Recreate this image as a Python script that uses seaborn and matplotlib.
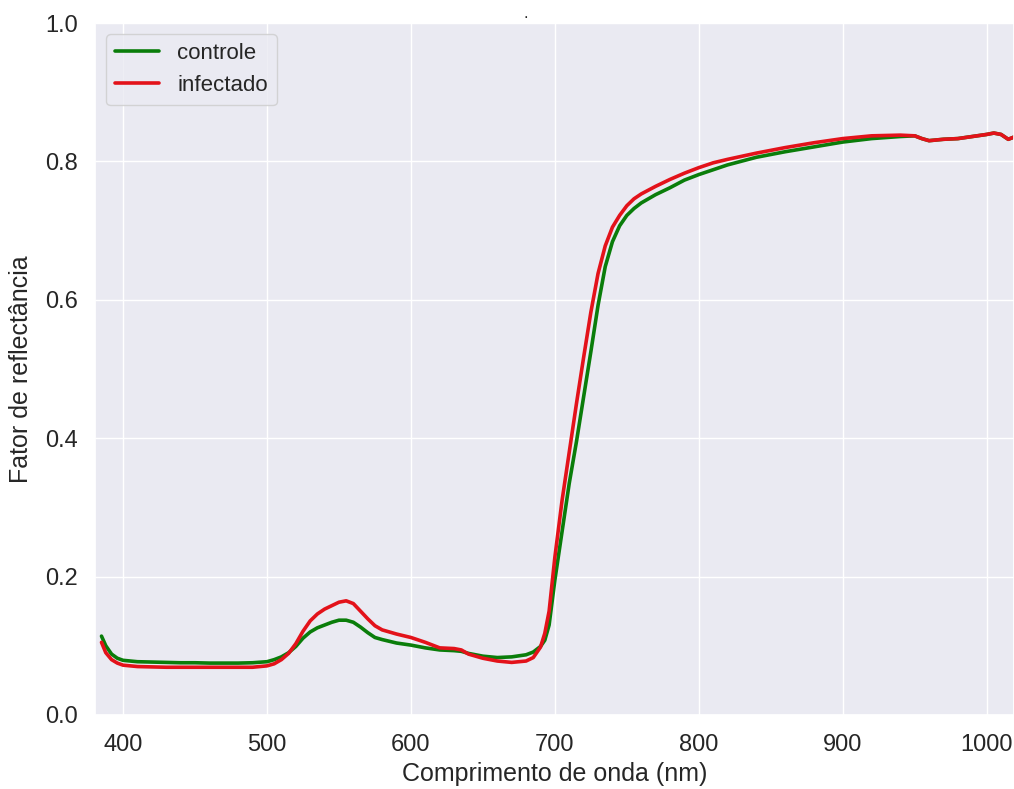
import seaborn as sns
import pandas as pd
import matplotlib
matplotlib.use('Agg')
import matplotlib.pyplot as plt

# Wavelengths (nm) and reflectance
wavelength = [385, 388, 392, 396, 400, 410, 420, 430, 440, 450, 460, 470, 480, 490,
              500, 505, 510, 515, 520, 525, 530, 535, 540, 545, 550, 555, 560, 565,
              570, 575, 580, 590, 600, 610, 620, 630, 635, 640, 650, 660, 670, 680,
              685, 690, 693, 696, 700, 705, 710, 715, 720, 725, 730, 735, 740, 745,
              750, 755, 760, 770, 780, 790, 800, 810, 820, 840, 860, 880, 900, 920,
              940, 950, 955, 960, 970, 980, 990, 1000, 1005, 1010, 1015, 1020]

controle = [0.114, 0.100, 0.088, 0.082, 0.079, 0.077, 0.0765, 0.076, 0.0755, 0.0755,
            0.075, 0.075, 0.075, 0.0755, 0.077, 0.080, 0.084, 0.090, 0.099, 0.111,
            0.120, 0.126, 0.130, 0.134, 0.137, 0.137, 0.134, 0.127, 0.119, 0.112,
            0.109, 0.104, 0.101, 0.097, 0.094, 0.093, 0.092, 0.089, 0.085, 0.083,
            0.084, 0.087, 0.091, 0.099, 0.108, 0.130, 0.195, 0.265, 0.335, 0.395,
            0.460, 0.525, 0.592, 0.648, 0.684, 0.707, 0.722, 0.732, 0.740, 0.752,
            0.762, 0.773, 0.781, 0.788, 0.795, 0.806, 0.814, 0.821, 0.828, 0.833,
            0.836, 0.837, 0.833, 0.830, 0.832, 0.833, 0.836, 0.839, 0.841, 0.839,
            0.832, 0.836]

infectado = [0.105, 0.090, 0.080, 0.075, 0.072, 0.070, 0.0695, 0.069, 0.069, 0.069,
             0.069, 0.069, 0.069, 0.069, 0.071, 0.074, 0.080, 0.089, 0.103, 0.121,
             0.136, 0.146, 0.153, 0.158, 0.163, 0.165, 0.161, 0.150, 0.139, 0.129,
             0.123, 0.117, 0.112, 0.105, 0.097, 0.096, 0.094, 0.088, 0.082, 0.078,
             0.076, 0.078, 0.083, 0.098, 0.118, 0.150, 0.228, 0.310, 0.380, 0.450,
             0.517, 0.582, 0.638, 0.678, 0.705, 0.722, 0.736, 0.746, 0.753, 0.764,
             0.774, 0.783, 0.791, 0.798, 0.803, 0.812, 0.820, 0.827, 0.833, 0.837,
             0.838, 0.837, 0.833, 0.830, 0.832, 0.833, 0.836, 0.839, 0.841, 0.839,
             0.832, 0.836]

df = pd.DataFrame({
    'Comprimento de onda (nm)': wavelength * 2,
    'Fator de reflectância': controle + infectado,
    'grupo': ['controle'] * len(wavelength) + ['infectado'] * len(wavelength),
})

sns.set_theme(style='darkgrid')
plt.rcParams['font.family'] = ['Liberation Sans', 'DejaVu Sans']

fig = plt.figure(figsize=(10.14, 7.89), dpi=100)
ax = fig.add_axes([0.0937, 0.0938, 0.9063, 0.877])

sns.lineplot(data=df, x='Comprimento de onda (nm)', y='Fator de reflectância',
             hue='grupo', palette={'controle': '#0a7d0a', 'infectado': '#e3121a'},
             linewidth=2.6, ax=ax)

ax.set_xlim(380.5, 1019)
ax.set_ylim(0, 1.0)
ax.set_xticks([400, 500, 600, 700, 800, 900, 1000])
ax.set_yticks([0.0, 0.2, 0.4, 0.6, 0.8, 1.0])
ax.tick_params(axis='x', labelsize=17, pad=8)
ax.tick_params(axis='y', labelsize=17, pad=6)
ax.set_xlabel('Comprimento de onda (nm)', fontsize=18, labelpad=4)
ax.set_ylabel('Fator de reflectância', fontsize=18, labelpad=9)
ax.legend(title=None, loc='upper left', fontsize=16)
fig.text(526 / 1014, 1 - 13 / 789, '.', ha='center', va='center', fontsize=12)

fig.savefig('out.png', dpi=100)
